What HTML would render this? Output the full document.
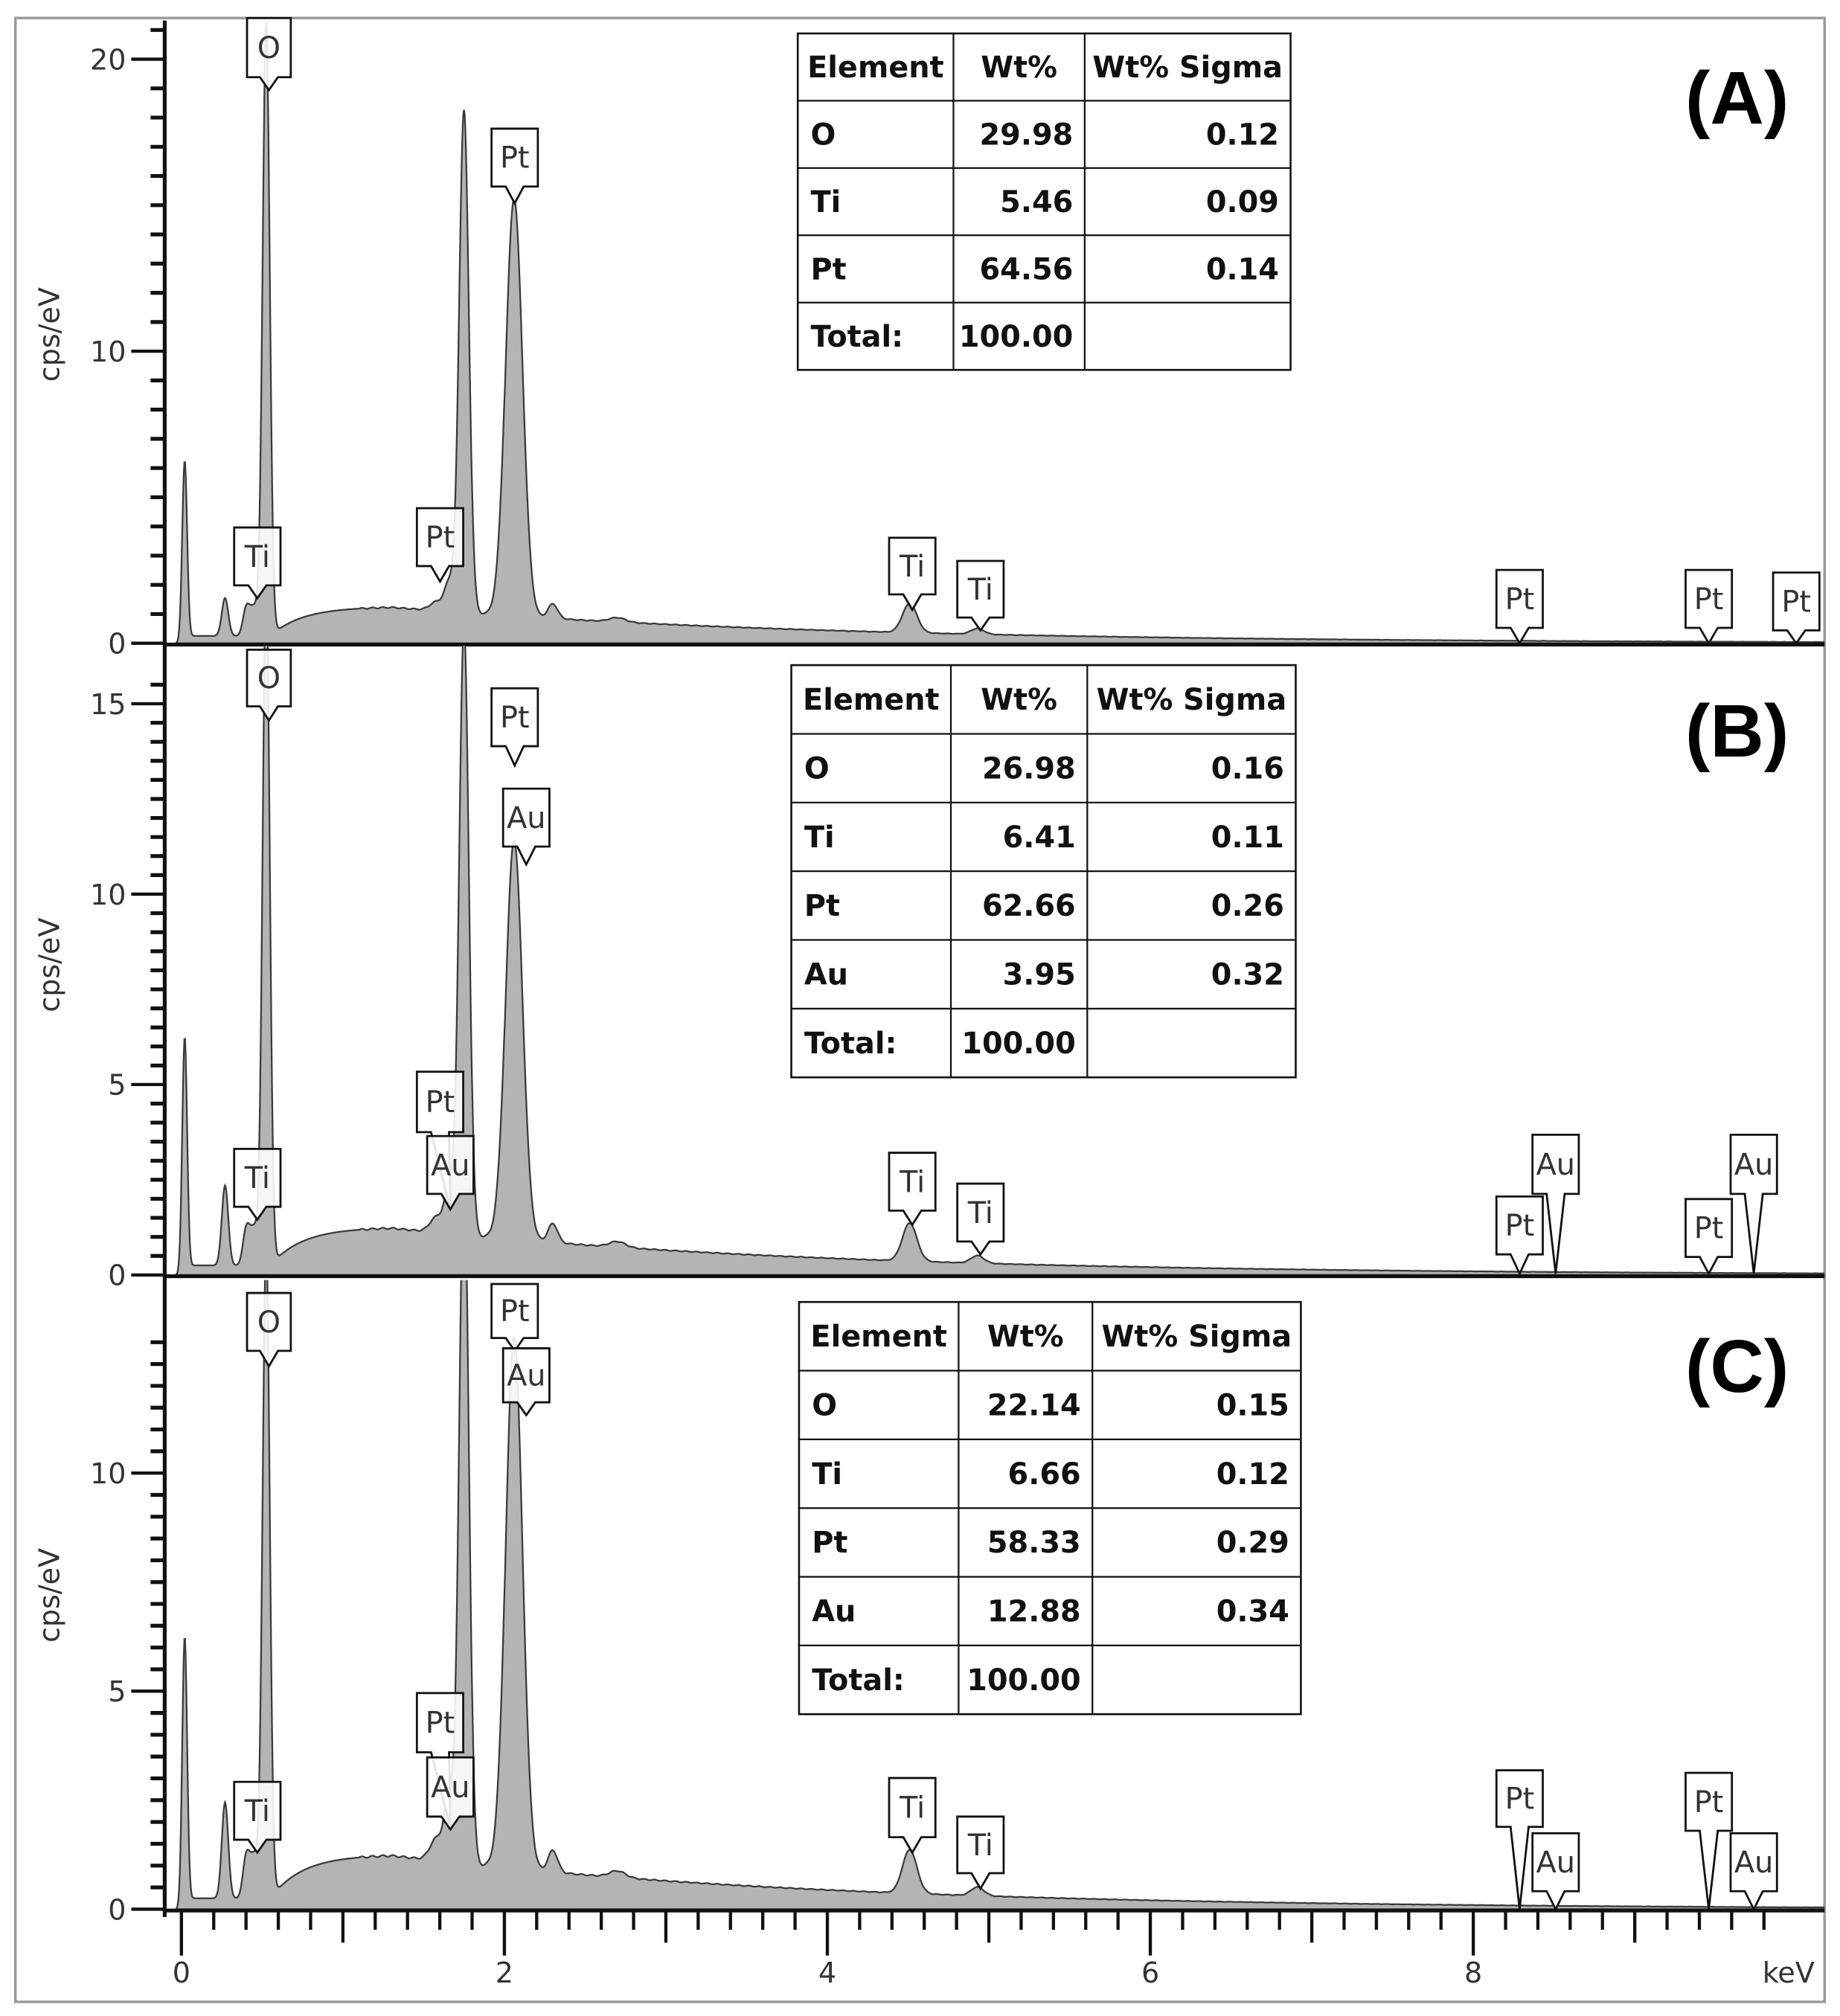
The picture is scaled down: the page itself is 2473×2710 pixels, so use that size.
<!DOCTYPE html>
<html><head><meta charset="utf-8">
<style>html,body{margin:0;padding:0;background:#fff}svg{display:block}</style>
</head><body>
<svg id="s" xmlns="http://www.w3.org/2000/svg" width="2473" height="2710" viewBox="0 0 1430 1567" preserveAspectRatio="none" font-family="'DejaVu Sans','Liberation Sans',sans-serif">
<rect x="0" y="0" width="1430" height="1567" fill="#fff"/>
</svg>
<script>
const S=document.getElementById('s');const NS='http://www.w3.org/2000/svg';
function el(t,a,txt){const e=document.createElementNS(NS,t);for(const k in a)e.setAttribute(k,a[k]);if(txt!==undefined)e.textContent=txt;S.appendChild(e);return e;}
const X=E=>141+E*125.5;
function bg(E){if(E<0.55)return 0.25;let v=1.25*(1-Math.exp(-(E-0.55)/0.2));if(E>1.3)v*=Math.exp(-(E-1.3)/2.6);return Math.max(v,0.25*Math.exp(-(E-0.55)*5)+v);}
const panels=[
 {top:14,base:500,ppu:22.7,majors:[0,10,20],minor:1,max:21,lab:260,
  pk:[[0.02,6,0.015],[0.27,1.3,0.02],[0.40,0.8,0.02],[0.45,1.0,0.03],[0.525,21,0.022],[1.58,0.3,0.04],[1.66,1.0,0.03],[1.75,17.2,0.03],[2.06,14.3,0.052],[2.3,0.5,0.03],[2.7,0.15,0.05],[4.51,1.0,0.045],[4.93,0.2,0.04]]},
 {top:502,base:991,ppu:29.6,majors:[0,5,10,15],minor:0.5,max:15.5,lab:750,
  pk:[[0.02,6,0.015],[0.27,2.1,0.02],[0.40,0.8,0.02],[0.45,1.0,0.03],[0.525,18,0.022],[1.58,0.4,0.04],[1.66,1.2,0.03],[1.75,16,0.03],[2.06,10.5,0.052],[2.3,0.5,0.03],[2.7,0.15,0.05],[4.51,1.0,0.045],[4.93,0.2,0.04]]},
 {top:995,base:1484,ppu:33.9,majors:[0,5,10],minor:0.5,max:13,lab:1240,
  pk:[[0.02,6,0.015],[0.27,2.2,0.02],[0.40,0.8,0.02],[0.45,1.0,0.03],[0.525,15,0.022],[1.58,0.5,0.04],[1.66,1.5,0.03],[1.75,16,0.03],[2.06,12.2,0.052],[2.3,0.5,0.03],[2.7,0.15,0.05],[4.51,1.0,0.045],[4.93,0.2,0.04]]}
];
el('rect',{x:12,y:14,width:1406,height:1542,fill:'none',stroke:'#999','stroke-width':2});
panels.forEach((p,i)=>{
  const cid='c'+i;
  const cp=el('clipPath',{id:cid});const r=document.createElementNS(NS,'rect');
  r.setAttribute('x',128);r.setAttribute('y',p.top);r.setAttribute('width',1290);r.setAttribute('height',p.base-p.top);cp.appendChild(r);
  let d='M'+X(-0.03)+' '+p.base;
  for(let E=-0.03;E<=10.2;E+=0.004){
    let v=(E<0)?0:bg(E);
    for(const [c,h,s] of p.pk){v+=h*Math.exp(-((E-c)**2)/(2*s*s));}
    if(E>1.1)v+=0.03*Math.sin(E*97)*Math.exp(-E/3);
    d+=' L'+X(E).toFixed(1)+' '+(p.base-v*p.ppu).toFixed(1);
  }
  d+=' L'+X(10.2)+' '+p.base+' Z';
  el('path',{d:d,fill:'#b4b4b4',stroke:'#3a3a3a','stroke-width':1.3,'clip-path':'url(#'+cid+')'});
  for(let v=0;v<=p.max+1e-6;v+=p.minor){const y=p.base-v*p.ppu;if(y<p.top+2)continue;
    const maj=p.majors.some(m=>Math.abs(m-v)<1e-6);
    el('line',{x1:maj?102:117,x2:128,y1:y,y2:y,stroke:'#111','stroke-width':maj?2.5:3});}
  p.majors.forEach(m=>{el('text',{x:98,y:p.base-m*p.ppu+8,'text-anchor':'end','font-size':22,fill:'#333'},String(m));});
  el('text',{x:46,y:p.lab,'font-size':22,fill:'#333','text-anchor':'middle',transform:'rotate(-90 46 '+p.lab+')'},'cps/eV');
  el('line',{x1:128,x2:1418,y1:p.base+1,y2:p.base+1,stroke:'#111','stroke-width':3});
});
el('line',{x1:128,x2:128,y1:16,y2:1490,stroke:'#111','stroke-width':3});
for(let k=0;k<=49;k++){const E=k*0.2;const x=X(E);let len=14;
  if(k%10==0)len=34;else if(k%5==0)len=24;
  el('line',{x1:x,x2:x,y1:1486,y2:1486+len,stroke:'#111','stroke-width':2.5});}
[0,2,4,6,8].forEach(v=>el('text',{x:X(v),y:1541,'text-anchor':'middle','font-size':22,fill:'#333'},String(v)));
el('text',{x:1390,y:1541,'text-anchor':'middle','font-size':22,fill:'#333'},'keV');
function lab(cx,t,b,tip,txt,tx){tx=tx===undefined?cx:tx;const w=txt=='O'?34:36;
  el('path',{d:`M${cx-w/2} ${t} H${cx+w/2} V${b} H${cx+7} L${tx} ${tip} L${cx-7} ${b} H${cx-w/2} Z`,fill:'rgba(255,255,255,0.88)',stroke:'#111','stroke-width':1.6});
  el('text',{x:cx,y:(t+b)/2+8,'text-anchor':'middle','font-size':23,fill:'#333'},txt);}
const L=[
[209,14,60,70,'O'],[200,410,455,465,'Ti'],[342,395,440,452,'Pt'],[400,100,145,158,'Pt'],[709,418,462,474,'Ti'],[762,436,480,490,'Ti'],[1181,443,488,500,'Pt'],[1328,443,488,500,'Pt'],[1396,445,490,500,'Pt'],
[209,505,549,560,'O'],[200,893,938,948,'Ti'],[342,833,880,940,'Pt',350],[350,883,928,940,'Au'],[400,535,580,595,'Pt'],[409,613,658,672,'Au'],[709,896,941,952,'Ti'],[762,920,965,975,'Ti'],[1209,882,928,990,'Au'],[1181,930,975,990,'Pt'],[1363,882,928,990,'Au'],[1328,932,977,990,'Pt'],
[209,1005,1050,1062,'O'],[200,1385,1430,1440,'Ti'],[342,1316,1362,1420,'Pt',350],[350,1366,1412,1422,'Au'],[400,998,1040,1050,'Pt'],[409,1048,1090,1100,'Au'],[709,1382,1428,1440,'Ti'],[762,1412,1456,1468,'Ti'],[1181,1376,1420,1484,'Pt'],[1209,1425,1470,1484,'Au'],[1328,1378,1423,1484,'Pt'],[1363,1425,1470,1484,'Au']];
L.forEach(a=>lab(...a));
function table(xs,y0,rh,rows){const n=rows.length;
  el('rect',{x:xs[0],y:y0,width:xs[3]-xs[0],height:rh*n,fill:'#fff',stroke:'#111','stroke-width':1.5});
  for(let i=1;i<n;i++)el('line',{x1:xs[0],x2:xs[3],y1:y0+i*rh,y2:y0+i*rh,stroke:'#111','stroke-width':1.3});
  [1,2].forEach(j=>el('line',{x1:xs[j],x2:xs[j],y1:y0,y2:y0+rh*n,stroke:'#111','stroke-width':1.3}));
  rows.forEach((r,i)=>{const y=y0+i*rh+rh/2+8;
    const a={'font-size':23,'font-weight':'bold',fill:'#111','font-family':"'DejaVu Sans',sans-serif"};
    if(i==0){el('text',Object.assign({x:(xs[0]+xs[1])/2,y:y,'text-anchor':'middle'},a),r[0]);
      el('text',Object.assign({x:(xs[1]+xs[2])/2,y:y,'text-anchor':'middle'},a),r[1]);
      el('text',Object.assign({x:(xs[2]+xs[3])/2,y:y,'text-anchor':'middle'},a),r[2]);}
    else{el('text',Object.assign({x:xs[0]+10,y:y},a),r[0]);
      el('text',Object.assign({x:xs[2]-9,y:y,'text-anchor':'end'},a),r[1]);
      if(r[2])el('text',Object.assign({x:xs[3]-9,y:y,'text-anchor':'end'},a),r[2]);}
  });}
table([620,741,843,1003],26,52.3,[['Element','Wt%','Wt% Sigma'],['O','29.98','0.12'],['Ti','5.46','0.09'],['Pt','64.56','0.14'],['Total:','100.00','']]);
table([615,739,845,1007],517,53.4,[['Element','Wt%','Wt% Sigma'],['O','26.98','0.16'],['Ti','6.41','0.11'],['Pt','62.66','0.26'],['Au','3.95','0.32'],['Total:','100.00','']]);
table([621,745,849,1011],1012,53.4,[['Element','Wt%','Wt% Sigma'],['O','22.14','0.15'],['Ti','6.66','0.12'],['Pt','58.33','0.29'],['Au','12.88','0.34'],['Total:','100.00','']]);
[['(A)',96],['(B)',588],['(C)',1082]].forEach(([t,y])=>el('text',{x:1350,y:y,'text-anchor':'middle','font-size':58,'font-weight':'bold',fill:'#000','font-family':"'Liberation Sans',sans-serif"},t));
</script>
</body></html>
